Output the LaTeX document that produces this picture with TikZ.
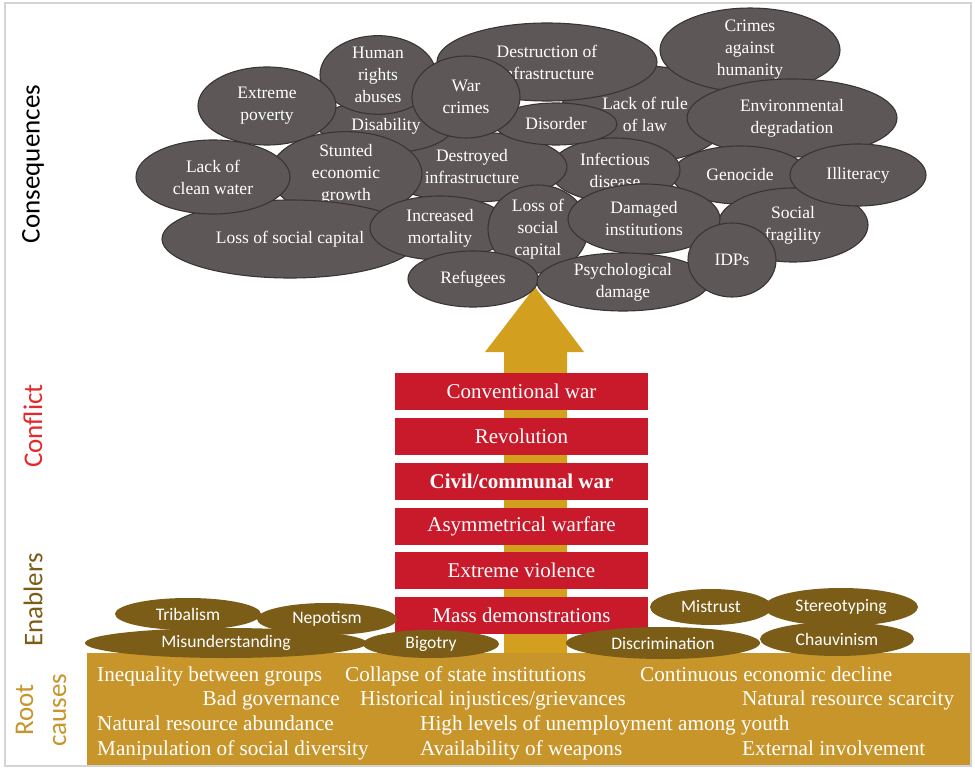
\documentclass[tikz,border=0pt]{standalone}
\usepackage{fontspec}
\setmainfont{Liberation Serif}
\newfontfamily\sansf{Carlito}
\usetikzlibrary{shapes.geometric}
\definecolor{consgray}{HTML}{5D5757}
\definecolor{consline}{HTML}{3A3434}
\definecolor{bandgold}{HTML}{C8952B}
\definecolor{arrowgold}{HTML}{D2A01E}
\definecolor{enabcol}{HTML}{7B5D17}
\definecolor{boxred}{HTML}{C81A2B}
\definecolor{labred}{HTML}{E6282B}
\definecolor{framegray}{HTML}{D4D4D4}
\tikzset{
  cons/.style={ellipse, draw=consline, fill=consgray, line width=1.1pt, text=white, align=center, inner sep=0pt,
    font=\fontsize{17.5}{22}\selectfont},
  enab/.style={ellipse, fill=enabcol, text=white, inner sep=0pt, font=\sansf\fontsize{17.6}{20}\selectfont},
  redbox/.style={rectangle, fill=boxred, text=white, inner sep=0pt, minimum width=253pt, minimum height=37pt,
    font=\fontsize{21}{24}\selectfont},
  roottxt/.style={text=white, inner sep=0pt, font=\fontsize{21.2}{24}\selectfont},
  sidelab/.style={rotate=90, inner sep=0pt, align=center, font=\sansf\fontsize{27}{33}\selectfont},
}
\begin{document}
\begin{tikzpicture}[x=1pt,y=-1pt]
\useasboundingbox (0,0) rectangle (975,770);
\fill[white] (0,0) rectangle (975,770);
% arrow
\fill[arrowgold] (504,660) -- (504,352) -- (485,352) -- (535,287) -- (584,352) -- (567,352) -- (567,660) -- cycle;
% red boxes
\node[redbox] (b1) at (521.5,391) {Conventional war};
\node[redbox] (b2) at (521.5,436) {Revolution};
\node[redbox] (b3) at (521.5,481) {\bfseries Civil/communal war};
\node[redbox] (b4) at (521.5,526) {Asymmetrical warfare};
\node[redbox] (b5) at (521.5,570) {Extreme violence};
\node[redbox] (b6) at (521.5,615) {Mass demonstrations};
% root causes band
\fill[bandgold] (87,653) rectangle (970,765);
\node[roottxt, anchor=base west] (r11) at (97,681) {Inequality between groups};
\node[roottxt, anchor=base west] (r12) at (345,681) {Collapse of state institutions};
\node[roottxt, anchor=base west] (r13) at (640,681) {Continuous economic decline};
\node[roottxt, anchor=base east] (r21) at (340,705) {Bad governance};
\node[roottxt, anchor=base west] (r22) at (360,705) {Historical injustices/grievances};
\node[roottxt, anchor=base west] (r23) at (742,705) {Natural resource scarcity};
\node[roottxt, anchor=base west] (r31) at (97,730) {Natural resource abundance};
\node[roottxt, anchor=base west] (r32) at (420,730) {High levels of unemployment among youth};
\node[roottxt, anchor=base west] (r41) at (97,755) {Manipulation of social diversity};
\node[roottxt, anchor=base west] (r42) at (420,755) {Availability of weapons};
\node[roottxt, anchor=base west] (r43) at (742,755) {External involvement};
% enablers
\node[enab, minimum width=146pt, minimum height=32pt] (tribal) at (188,614) {Tribalism};
\node[enab, minimum width=140pt, minimum height=32pt] (nepot) at (327,619) {Nepotism};
\node[enab, minimum width=282pt, minimum height=30pt] (misund) at (226,643) {Misunderstanding};
\node[enab, minimum width=136pt, minimum height=28pt] (bigot) at (431,644) {Bigotry};
\node[enab, minimum width=122pt, minimum height=36pt] (mistr) at (711,607) {Mistrust};
\node[enab, minimum width=154pt, minimum height=38pt] (stereo) at (841,607) {Stereotyping};
\node[enab, minimum width=194pt, minimum height=32pt] (discr) at (663,643) {Discrimination};
\node[enab, minimum width=154pt, minimum height=34pt] (chauv) at (837,639) {Chauvinism};
% consequences
\node[cons, minimum width=170pt, minimum height=96pt] (lackrule) at (645,114) {Lack of rule\\of law};
\node[cons, minimum width=220pt, minimum height=78pt] (destr) at (547,62) {Destruction of\\infrastructure};
\node[cons, minimum width=180pt, minimum height=68pt] (crimes) at (750,50) {Crimes\\against\\humanity};
\node[cons, minimum width=210pt, minimum height=78pt] (environ) at (792,118) {Environmental\\degradation};
\node[cons, minimum width=136pt, minimum height=58pt] (genoc) at (740,175) {Genocide};
\node[cons, minimum width=150pt, minimum height=74pt] (sfrag) at (793,225) {Social\\fragility};
\node[cons, minimum width=136pt, minimum height=62pt] (illit) at (858,175) {Illiteracy};
\node[cons, minimum width=130pt, minimum height=64pt] (infect) at (615,170) {Infectious\\disease};
\node[cons, minimum width=190pt, minimum height=70pt] (destroyed) at (472,167) {Destroyed\\infrastructure};
\node[cons, minimum width=134pt, minimum height=54pt] (disab) at (386,126) {Disability};
\node[cons, minimum width=116pt, minimum height=78pt] (human) at (378,75) {Human\\rights\\abuses};
\node[cons, minimum width=122pt, minimum height=42pt] (disord) at (556,124) {Disorder};
\node[cons, minimum width=108pt, minimum height=82pt] (warcr) at (466,97) {War\\crimes};
\node[cons, minimum width=138pt, minimum height=78pt] (poverty) at (267,106) {Extreme\\poverty};
\node[cons, minimum width=152pt, minimum height=64pt] (stunted) at (346,174) {Stunted\\economic\\growth};
\node[cons, minimum width=256pt, minimum height=78pt] (lossbig) at (290,239) {Loss of social capital};
\node[cons, minimum width=154pt, minimum height=74pt] (water) at (213,177) {Lack of\\clean water};
\node[cons, minimum width=140pt, minimum height=64pt] (mortal) at (440,228) {Increased\\mortality};
\node[cons, minimum width=100pt, minimum height=88pt] (losssm) at (538,229) {Loss of\\social\\capital};
\node[cons, minimum width=152pt, minimum height=70pt] (damaged) at (644,219) {Damaged\\institutions};
\node[cons, minimum width=130pt, minimum height=56pt] (refug) at (473,279) {Refugees};
\node[cons, minimum width=172pt, minimum height=58pt] (psych) at (623,282) {Psychological\\damage};
\node[cons, minimum width=88pt, minimum height=74pt] (idps) at (732,260) {IDPs};
% side labels
\node[sidelab, text=black] (lcons) at (33,164) {Consequences};
\node[sidelab, text=labred] (lconf) at (33,426) {Conflict};
\node[sidelab, text=enabcol] (lenab) at (33,600) {Enablers};
\node[sidelab, text=bandgold] (lroot) at (41,710) {Root\\causes};
% frame
\draw[framegray, line width=2pt] (5,3) rectangle (971,766);
\end{tikzpicture}
\end{document}
